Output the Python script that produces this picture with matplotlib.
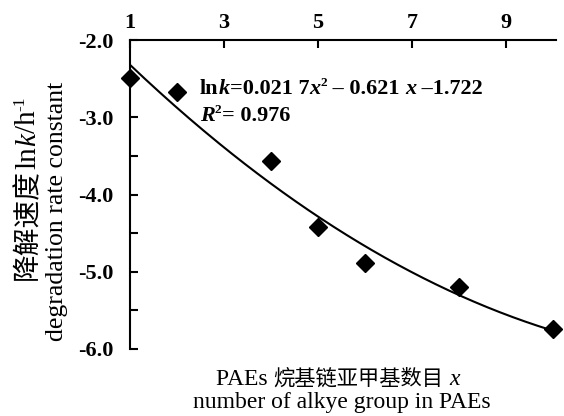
import numpy as np
import matplotlib
matplotlib.use("Agg")
import matplotlib.pyplot as plt
from matplotlib.ticker import FixedLocator

SERIF = 'Liberation Serif'
CJK = 'Noto Sans CJK SC'
plt.rcParams['font.family'] = [SERIF, CJK]

x_vals = [1, 2, 4, 5, 6, 8, 10]
lnk_vals = [-2.49, -2.67, -3.57, -4.42, -4.89, -5.20, -5.74]
coef = [0.0217, -0.621, -1.722]
x_ticks = [1, 3, 5, 7, 9]
y_ticks = [-2.0, -3.0, -4.0, -5.0, -6.0]
y_minor = [-2.5, -3.5, -4.5, -5.5]

W, H = 564, 416
fig = plt.figure(figsize=(W / 100, H / 100), dpi=100)
ax = fig.add_axes([130 / W, 1 - 349 / H, (556 - 130) / W, (349 - 40) / H])

xf = np.linspace(1, 10, 200)
ax.plot(xf, np.polyval(coef, xf), color='black', lw=1.5)
ax.plot(x_vals, lnk_vals, 'D', color='black', markersize=9.5, clip_on=False, zorder=3)

ax.set_xlim(1, 10.07)
ax.set_ylim(-6.0, -2.0)
ax.xaxis.tick_top()
ax.set_xticks(x_ticks)
ax.set_yticks(y_ticks)
ax.yaxis.set_minor_locator(FixedLocator(y_minor))
ax.set_yticklabels([f"{v:.1f}" for v in y_ticks])
ax.spines['right'].set_visible(False)
ax.spines['bottom'].set_visible(False)
for s in ['left', 'top']:
    ax.spines[s].set_linewidth(1.5)
ax.tick_params(axis='both', which='both', direction='in', width=1.5, length=6,
               labelsize=16)
ax.tick_params(axis='y', pad=12)
ax.tick_params(axis='x', pad=5)
for lab in ax.get_yticklabels() + ax.get_xticklabels():
    lab.set_fontweight('bold')

renderer = fig.canvas.get_renderer()


def _make(s, st, size, rotation):
    return fig.text(0, 0, s, transform=None,
                    fontsize=size * st.get('scale', 1.0),
                    family=st.get('family', [SERIF, CJK]),
                    style=st.get('style', 'normal'),
                    weight=st.get('weight', 'normal'),
                    rotation=rotation, rotation_mode='anchor',
                    ha='left', va='baseline')


def _advance(s, st, size):
    t1 = _make('|' + s + '|', st, size, 0)
    t2 = _make('||', st, size, 0)
    w = t1.get_window_extent(renderer).width - t2.get_window_extent(renderer).width
    t1.remove(); t2.remove()
    return w


def rich(x, y, segs, size, rotation=0, ha='center', weight='normal'):
    """x, y: display px (y from top) of baseline anchor."""
    segs = [(s, dict({'weight': weight}, **st)) for s, st in segs]
    widths = [_advance(s, st, size) for s, st in segs]
    total = sum(widths)
    pos = -total / 2 if ha == 'center' else 0.0
    yb = H - y
    for (s, st), w in zip(segs, widths):
        rise = st.get('rise', 0.0) * size
        t = _make(s, st, size, rotation)
        if rotation == 0:
            t.set_position((x + pos, yb + rise))
        else:
            t.set_position((x - rise, yb + pos))
        pos += w


IT = {'style': 'italic'}
SUP = {'scale': 0.6, 'rise': 0.5}
CJKS = {'family': [CJK], 'scale': 0.9}
CJKY = {'family': [CJK], 'scale': 0.95}

rich(200, 94, [('ln', {}), ('k', IT), ('=0.021 7', {}), ('x', IT), ('2', SUP),
               (' – 0.621 ', {}), ('x', IT), (' –1.722', {})],
     16, ha='left', weight='bold')
rich(200, 121, [('R', IT), ('2', SUP), ('= 0.976', {})], 16, ha='left', weight='bold')

rich(338, 385, [('PAEs ', {}), ('烷基链亚甲基数目', CJKS), (' ', {}), ('x', IT)], 17)
rich(342, 408, [('number of alkye group in PAEs', {})], 17)

rich(35, 188, [('降解速度', CJKY), ('ln', {}), ('k', IT), ('/h', {}), ('-1', SUP)],
     21, rotation=90)
rich(63, 211, [('degradation rate constant', {})], 18.5, rotation=90)

fig.savefig("out.png", dpi=100)
